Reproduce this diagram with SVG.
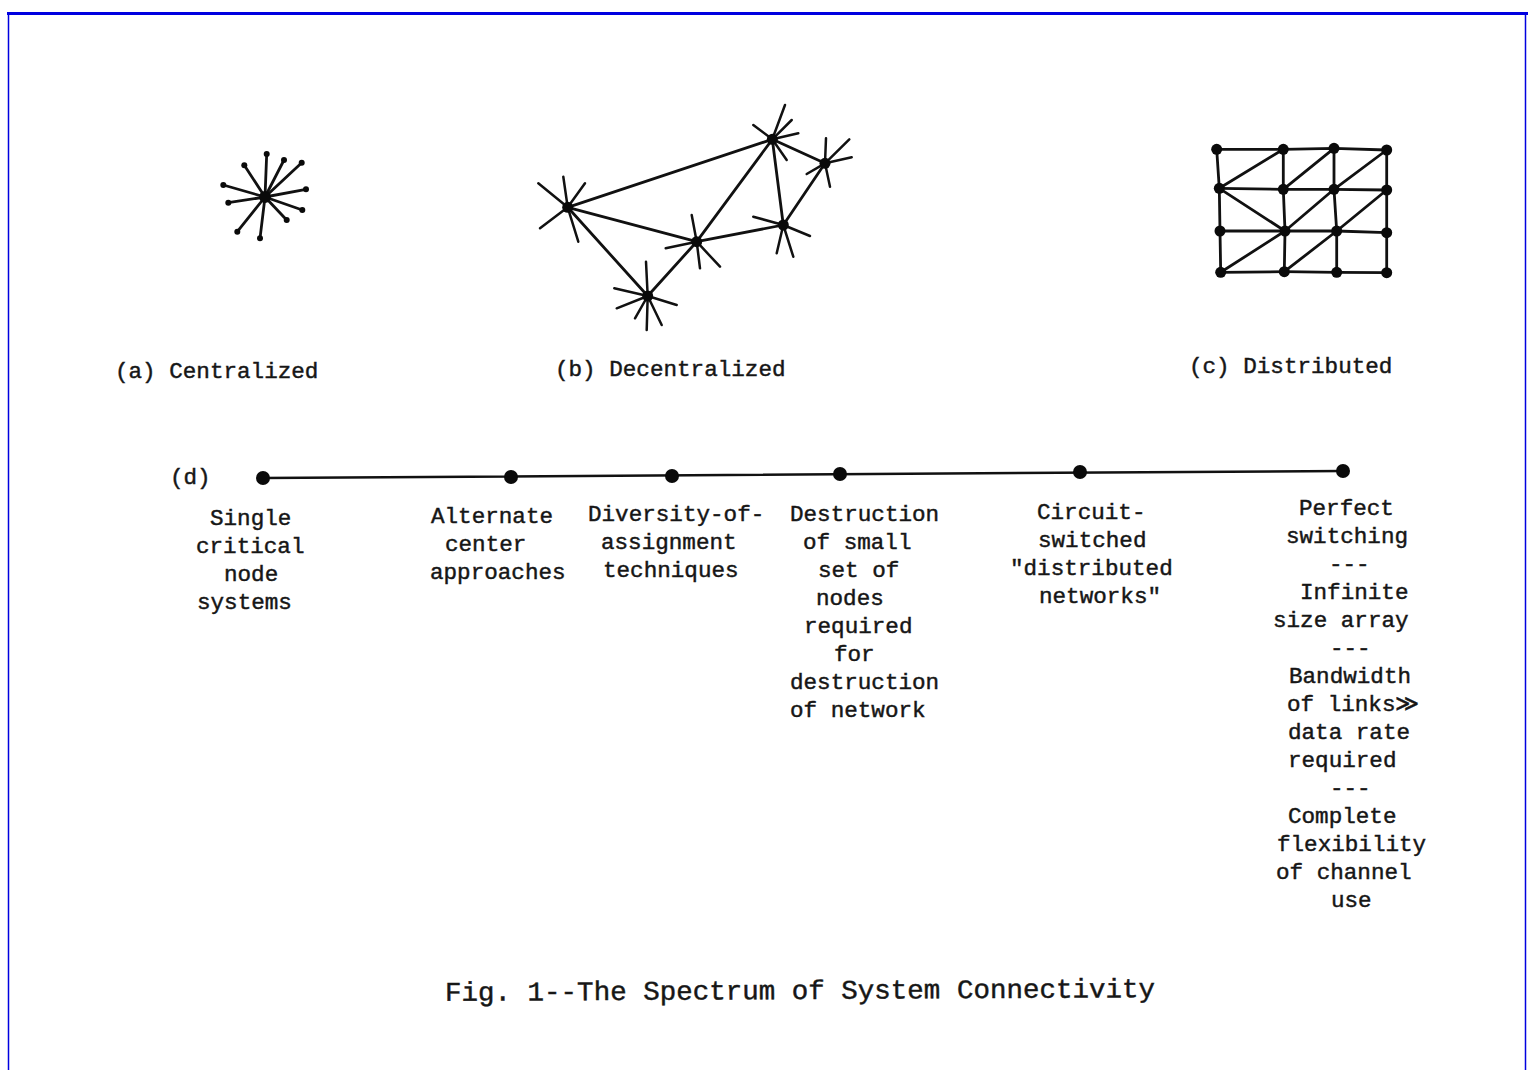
<svg xmlns="http://www.w3.org/2000/svg" width="1528" height="1070" viewBox="0 0 1528 1070">
<style>
.t{font-family:"Liberation Mono","DejaVu Sans Mono",monospace;font-size:22.6px;fill:#161616;stroke:#161616;stroke-width:0.45}
.cap{font-family:"Liberation Mono","DejaVu Sans Mono",monospace;font-size:27px;fill:#161616;stroke:#161616;stroke-width:0.45}
.ln{stroke:#111;stroke-width:2.8;fill:none;stroke-linecap:round;stroke-linejoin:round}
.sp{stroke:#111;stroke-width:2.5;fill:none;stroke-linecap:round}
.dot{fill:#0a0a0a}
</style>
<rect width="1528" height="1070" fill="#fff"/>
<g id="frame" fill="none" stroke="#0000e0">
<line x1="7" y1="13.5" x2="1528" y2="13.5" stroke-width="3"/>
<line x1="8.5" y1="12" x2="8.5" y2="1070" stroke-width="1.5"/>
<line x1="1525.5" y1="12" x2="1525.5" y2="1070" stroke-width="1.5"/>
</g>
<g id="centralized">
<g class="sp" style="stroke-width:2.8">
<line x1="265" y1="197" x2="266.7" y2="154"/>
<line x1="265" y1="197" x2="284" y2="160"/>
<line x1="265" y1="197" x2="301.7" y2="162.7"/>
<line x1="265" y1="197" x2="244.3" y2="165.3"/>
<line x1="265" y1="197" x2="223.3" y2="185"/>
<line x1="265" y1="197" x2="306" y2="189.3"/>
<line x1="265" y1="197" x2="228.3" y2="202.7"/>
<line x1="265" y1="197" x2="302.3" y2="210"/>
<line x1="265" y1="197" x2="286.7" y2="220"/>
<line x1="265" y1="197" x2="237.3" y2="231.7"/>
<line x1="265" y1="197" x2="260" y2="238.3"/>
</g>
<g class="dot">
<circle cx="265" cy="197" r="6"/>
<circle cx="266.7" cy="154" r="3"/><circle cx="284" cy="160" r="3"/><circle cx="301.7" cy="162.7" r="3"/>
<circle cx="244.3" cy="165.3" r="3"/><circle cx="223.3" cy="185" r="3"/><circle cx="306" cy="189.3" r="3"/>
<circle cx="228.3" cy="202.7" r="3"/><circle cx="302.3" cy="210" r="3"/><circle cx="286.7" cy="220" r="3"/>
<circle cx="237.3" cy="231.7" r="3"/><circle cx="260" cy="238.3" r="3"/>
</g>
</g>
<g id="decentralized">
<g class="ln">
<line x1="567.7" y1="207.3" x2="772.3" y2="139.3"/>
<line x1="567.7" y1="207.3" x2="696.7" y2="241.7"/>
<line x1="567.7" y1="207.3" x2="647.7" y2="296"/>
<line x1="647.7" y1="296" x2="696.7" y2="241.7"/>
<line x1="696.7" y1="241.7" x2="772.3" y2="139.3"/>
<line x1="696.7" y1="241.7" x2="783.3" y2="225"/>
<line x1="772.3" y1="139.3" x2="783.3" y2="225"/>
<line x1="772.3" y1="139.3" x2="825" y2="163.3"/>
<line x1="825" y1="163.3" x2="783.3" y2="225"/>
</g>
<g class="sp">
<line x1="567.7" y1="207.3" x2="538.3" y2="183.3"/><line x1="567.7" y1="207.3" x2="563.3" y2="176.7"/><line x1="567.7" y1="207.3" x2="585" y2="183.3"/><line x1="567.7" y1="207.3" x2="540" y2="228.3"/><line x1="567.7" y1="207.3" x2="578.3" y2="241.7"/>
<line x1="772.3" y1="139.3" x2="785" y2="105"/><line x1="772.3" y1="139.3" x2="791.7" y2="120"/><line x1="772.3" y1="139.3" x2="753.3" y2="125"/><line x1="772.3" y1="139.3" x2="798.3" y2="133.3"/><line x1="772.3" y1="139.3" x2="786.7" y2="160"/>
<line x1="825" y1="163.3" x2="826" y2="138.3"/><line x1="825" y1="163.3" x2="849.3" y2="139.3"/><line x1="825" y1="163.3" x2="851.7" y2="157.3"/><line x1="825" y1="163.3" x2="806.7" y2="174"/><line x1="825" y1="163.3" x2="830" y2="186.7"/>
<line x1="696.7" y1="241.7" x2="691.7" y2="215"/><line x1="696.7" y1="241.7" x2="665.7" y2="248.3"/><line x1="696.7" y1="241.7" x2="700" y2="268.3"/><line x1="696.7" y1="241.7" x2="720" y2="266.7"/>
<line x1="783.3" y1="225" x2="753.3" y2="216.7"/><line x1="783.3" y1="225" x2="810" y2="236"/><line x1="783.3" y1="225" x2="776.7" y2="253.3"/><line x1="783.3" y1="225" x2="793.3" y2="256.7"/>
<line x1="647.7" y1="296" x2="646" y2="261.7"/><line x1="647.7" y1="296" x2="614.3" y2="288.3"/><line x1="647.7" y1="296" x2="616.7" y2="308.3"/><line x1="647.7" y1="296" x2="676.7" y2="305"/><line x1="647.7" y1="296" x2="635" y2="318.3"/><line x1="647.7" y1="296" x2="646.7" y2="330"/><line x1="647.7" y1="296" x2="661.7" y2="325"/>
</g>
<g class="dot">
<circle cx="567.7" cy="207.3" r="5.5"/><circle cx="772.3" cy="139.3" r="5.5"/><circle cx="825" cy="163.3" r="5.5"/>
<circle cx="696.7" cy="241.7" r="5.5"/><circle cx="783.3" cy="225" r="5.5"/><circle cx="647.7" cy="296" r="5.5"/>
</g>
</g>
<g id="distributed">
<g class="ln">
<polyline points="1216.7,149.3 1283.3,149.3 1334,148.3 1386.7,150"/>
<polyline points="1219.3,188.3 1283.3,189.3 1334,189.3 1386.7,190"/>
<polyline points="1220,231 1285,231 1336.7,231 1386.7,232.7"/>
<polyline points="1220.7,272.3 1284.3,271.7 1336.7,272.3 1386.7,272.7"/>
<polyline points="1216.7,149.3 1219.3,188.3 1220,231 1220.7,272.3"/>
<polyline points="1283.3,149.3 1283.3,189.3 1285,231 1284.3,271.7"/>
<polyline points="1334,148.3 1334,189.3 1336.7,231 1336.7,272.3"/>
<polyline points="1386.7,150 1386.7,190 1386.7,232.7 1386.7,272.7"/>
<line x1="1219.3" y1="188.3" x2="1283.3" y2="149.3"/>
<line x1="1283.3" y1="189.3" x2="1334" y2="148.3"/>
<line x1="1334" y1="189.3" x2="1386.7" y2="150"/>
<line x1="1219.3" y1="188.3" x2="1285" y2="231"/>
<line x1="1285" y1="231" x2="1334" y2="189.3"/>
<line x1="1336.7" y1="231" x2="1386.7" y2="190"/>
<line x1="1220.7" y1="272.3" x2="1285" y2="231"/>
<line x1="1284.3" y1="271.7" x2="1336.7" y2="231"/>
</g>
<g class="dot">
<circle cx="1216.7" cy="149.3" r="5.5"/><circle cx="1283.3" cy="149.3" r="5.5"/><circle cx="1334" cy="148.3" r="5.5"/><circle cx="1386.7" cy="150" r="5.5"/>
<circle cx="1219.3" cy="188.3" r="5.5"/><circle cx="1283.3" cy="189.3" r="5.5"/><circle cx="1334" cy="189.3" r="5.5"/><circle cx="1386.7" cy="190" r="5.5"/>
<circle cx="1220" cy="231" r="5.5"/><circle cx="1285" cy="231" r="5.5"/><circle cx="1336.7" cy="231" r="5.5"/><circle cx="1386.7" cy="232.7" r="5.5"/>
<circle cx="1220.7" cy="272.3" r="5.5"/><circle cx="1284.3" cy="271.7" r="5.5"/><circle cx="1336.7" cy="272.3" r="5.5"/><circle cx="1386.7" cy="272.7" r="5.5"/>
</g>
</g>
<g id="labels">
<text class="t" x="115" y="378">(a) Centralized</text>
<text class="t" x="555" y="376">(b) Decentralized</text>
<text class="t" x="1189" y="373">(c) Distributed</text>
</g>
<g id="spectrum">
<text class="t" x="170" y="484">(d)</text>
<line class="ln" x1="263" y1="478" x2="1343" y2="471" style="stroke-width:2.5"/>
<g class="dot">
<circle cx="263" cy="478" r="7"/><circle cx="511" cy="477" r="7"/><circle cx="672" cy="476" r="7"/>
<circle cx="840" cy="474" r="7"/><circle cx="1080" cy="472" r="7"/><circle cx="1343" cy="471" r="7"/>
</g>
</g>
<g id="stage-1" class="t">
<text x="210" y="525">Single</text><text x="196" y="553">critical</text><text x="224" y="581">node</text><text x="197" y="609">systems</text>
</g>
<g id="stage-2" class="t">
<text x="431" y="523">Alternate</text><text x="445" y="551">center</text><text x="430" y="579">approaches</text>
</g>
<g id="stage-3" class="t">
<text x="588" y="521">Diversity-of-</text><text x="601" y="549">assignment</text><text x="603" y="577">techniques</text>
</g>
<g id="stage-4" class="t">
<text x="790" y="521">Destruction</text><text x="803" y="549">of small</text><text x="818" y="577">set of</text><text x="816" y="605">nodes</text>
<text x="804" y="633">required</text><text x="834" y="661">for</text><text x="790" y="689">destruction</text><text x="790" y="717">of network</text>
</g>
<g id="stage-5" class="t">
<text x="1037" y="519">Circuit-</text><text x="1038" y="547">switched</text><text x="1010" y="575">"distributed</text><text x="1039" y="603">networks"</text>
</g>
<g id="stage-6" class="t">
<text x="1299" y="515">Perfect</text><text x="1286" y="543">switching</text><text x="1329" y="571">---</text>
<text x="1300" y="599">Infinite</text><text x="1273" y="627">size array</text><text x="1330" y="655">---</text>
<text x="1289" y="683">Bandwidth</text><text x="1287" y="711">of links≫</text><text x="1288" y="739">data rate</text><text x="1288" y="767">required</text>
<text x="1330" y="795">---</text><text x="1288" y="823">Complete</text><text x="1277" y="851">flexibility</text><text x="1276" y="879">of channel</text><text x="1331" y="907">use</text>
</g>
<text id="caption" class="cap" x="445" y="999" textLength="710" lengthAdjust="spacingAndGlyphs" transform="rotate(-0.3 800 995)">Fig. 1--The Spectrum of System Connectivity</text>
</svg>
